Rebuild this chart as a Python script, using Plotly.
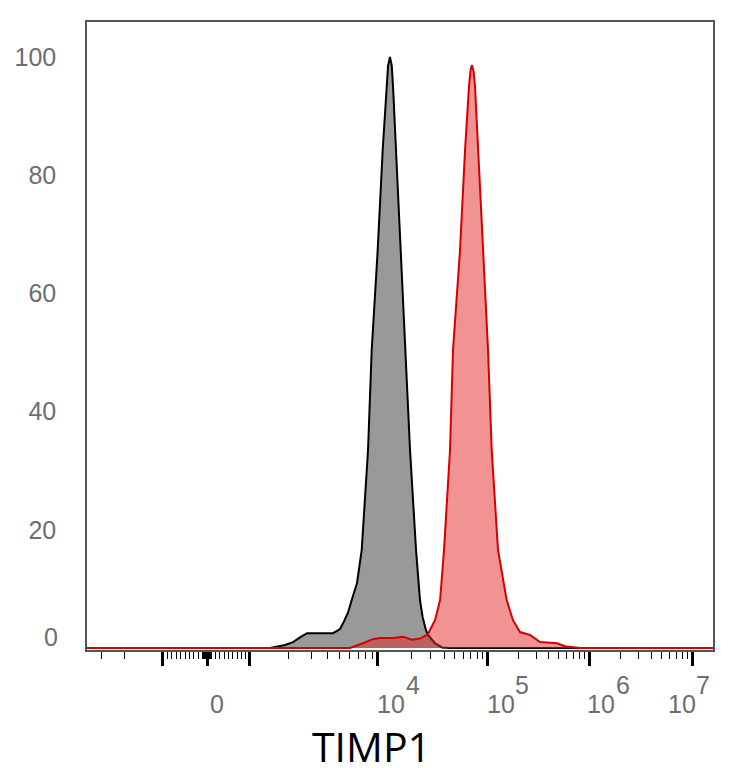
import numpy as np
import plotly.graph_objects as go

# Histogram data in display channels (0-1024), y as % of max
gray_ch = [0, 299.4, 323.9, 337.0, 348.4, 359.9, 402.4, 413.9, 420.4, 427.0,
           433.0, 441.7, 449.4, 459.7, 465.7, 475.5, 483.7, 489.1, 492.5, 495.6,
           498.5, 500.6, 505.5, 513.6, 521.8, 528.4, 538.2, 544.7, 549.1, 554.5,
           557.8, 569.3, 580.7, 593.8, 1024]
gray_pct = [0, 0, 0.5, 1.0, 1.8, 2.5, 2.5, 3.2, 4.5, 6.0,
            8.1, 11.0, 16.6, 33.5, 50.4, 67.3, 84.3, 94.0, 98.5, 100,
            98.5, 95.0, 84.3, 67.3, 50.4, 33.5, 16.6, 8.1, 5.2, 3.0,
            2.2, 0.8, 0.1, 0, 0]

red_ch = [0, 430.2, 451.5, 467.9, 479.3, 500.6, 516.9, 531.6, 544.7, 556.2,
          559.4, 569.3, 577.6, 584.0, 593.8, 598.7, 610.2, 618.4, 624.9, 627.5,
          629.8, 632.5, 634.7, 639.6, 647.3, 656.0, 662.0, 672.3, 686.5, 696.8,
          708.3, 724.7, 741.0, 768.8, 781.9, 806.4, 1024]
red_pct = [0, 0, 0.8, 1.5, 1.7, 1.7, 1.9, 1.4, 1.6, 2.2,
           2.7, 4.7, 8.1, 16.6, 33.5, 50.4, 67.3, 84.3, 95.0, 97.8,
           98.6, 97.5, 95.0, 84.3, 67.3, 50.4, 33.5, 16.6, 8.1, 4.7,
           2.7, 2.2, 1.0, 0.8, 0.3, 0, 0]

# axis scale: channel of 0 and of each decade
zero_ch = 196.3
neg_decade_ch = 124.3
decade_exp = [3, 4, 5, 6, 7]
decade_ch = [266.6, 476.0, 655.9, 821.2, 989.7]

y_ticks = [20, 40, 60, 80, 100]
x_labels = ["0", "10", "10", "10", "10"]
x_label_exp = ["", "4", "5", "6", "7"]
x_label_vals = [0, 1e4, 1e5, 1e6, 1e7]


def to_channel(v):
    if v >= 1000:
        return float(np.interp(np.log10(v), decade_exp, decade_ch))
    if v <= -1000:
        step = decade_ch[1] - decade_ch[0]
        return neg_decade_ch - np.log10(-v / 1000) * step
    if v >= 0:
        return zero_ch + v / 1000 * (decade_ch[0] - zero_ch)
    return zero_ch + v / 1000 * (zero_ch - neg_decade_ch)


major_vals = [-1e3, 0, 1e3, 1e4, 1e5, 1e6, 1e7]
minor_vals = [-3000, -2000]
minor_vals += [s * m for s in (-1, 1) for m in range(10, 100, 10)]
minor_vals += [s * m for s in (-1, 1) for m in range(100, 1000, 100)]
for e in range(3, 7):
    minor_vals += [m * 10 ** e for m in range(2, 10)]

fig = go.Figure()
fig.add_trace(go.Scatter(
    x=gray_ch, y=gray_pct, mode="lines", fill="tozeroy",
    line=dict(color="black", width=2), fillcolor="#999999",
    hoverinfo="skip"))
fig.add_trace(go.Scatter(
    x=red_ch, y=red_pct, mode="lines", fill="tozeroy",
    line=dict(color="#d40000", width=2), fillcolor="rgba(228,40,40,0.5)",
    hoverinfo="skip"))

ax_font = dict(family="Liberation Sans, Arial", size=25, color="#6e6e6e")
shifts = [(10, 0), (13, 35), (13, 34), (12, 34), (-10, 11)]
for val, base, exp, (dx, dx_exp) in zip(x_label_vals, x_labels, x_label_exp, shifts):
    xc = to_channel(val)
    fig.add_annotation(x=xc, y=0, xref="x", yref="paper", text=base,
                       showarrow=False, xanchor="center", yanchor="middle",
                       xshift=dx, yshift=-54, font=ax_font)
    if exp:
        fig.add_annotation(x=xc, y=0, xref="x", yref="paper", text=exp,
                           showarrow=False, xanchor="center", yanchor="middle",
                           xshift=dx_exp, yshift=-35, font=ax_font)

# the 0 label on the y axis sits a little above its line
fig.add_annotation(x=0, y=0, xref="paper", yref="y", text="0", showarrow=False,
                   xanchor="right", yanchor="middle", xshift=-27, yshift=11,
                   font=ax_font)

fig.add_annotation(x=0.4537, y=0, xref="paper", yref="paper", text="TIMP1",
                   showarrow=False, xanchor="center", yanchor="middle", yshift=-96,
                   font=dict(family="Open Sans", size=41, color="black"))

# page body has an 8px margin, so the figure is shifted to fit the window
fig.update_layout(
    width=718, height=760,
    margin=dict(l=79, r=13, t=14, b=118),
    paper_bgcolor="white", plot_bgcolor="white",
    showlegend=False,
    xaxis=dict(
        range=[0, 1024], showgrid=False, zeroline=False, automargin=False,
        showline=True, mirror=True, linecolor="#555555", linewidth=1.5,
        tickmode="array", tickvals=[to_channel(v) for v in major_vals],
        ticks="outside", ticklen=14, tickwidth=3, tickcolor="black",
        showticklabels=False,
        minor=dict(tickmode="array", tickvals=[to_channel(v) for v in minor_vals],
                   ticks="outside", ticklen=7, tickwidth=1, tickcolor="black"),
    ),
    yaxis=dict(
        range=[-0.34, 105.9], showgrid=False, zeroline=False, automargin=False,
        showline=True, mirror=True, linecolor="#555555", linewidth=1.5,
        tickmode="array", tickvals=y_ticks, ticks="",
        ticklabelstandoff=24,
        tickfont=ax_font,
    ),
)

fig.write_html("out.html")
